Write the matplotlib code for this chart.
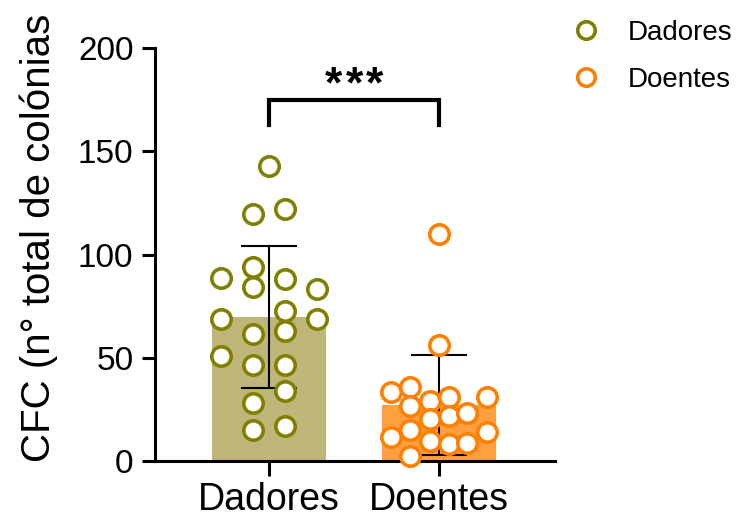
import numpy as np
from matplotlib import pyplot as plt

plt.rcParams['font.family'] = ['Liberation Sans', 'DejaVu Sans']

grupos = ['Dadores', 'Doentes']

dadores = [143.0, 119.5, 121.9, 88.5, 94.1, 84.4, 88.0, 83.3, 68.8, 72.8,
           68.8, 61.3, 63.0, 51.0, 46.5, 46.5, 33.9, 27.9, 15.0, 16.6]
doentes = [110.2, 56.2, 33.1, 35.7, 29.2, 31.1, 30.7, 26.3, 20.3, 21.9,
           23.1, 15.0, 11.5, 9.8, 8.1, 8.6, 13.7, 2.1]

# desvio horizontal de cada ponto (disposicao tipo "swarm")
desvio_dadores = [0, -0.094, 0.094, -0.282, -0.094, -0.094, 0.094, 0.282, -0.282, 0.094,
                  0.282, -0.094, 0.094, -0.282, -0.094, 0.094, 0.094, -0.094, -0.094, 0.094]
desvio_doentes = [0, 0, -0.282, -0.171, -0.057, 0.055, 0.28, -0.171, -0.057, 0.055,
                  0.166, -0.171, -0.282, -0.057, 0.055, 0.166, 0.28, -0.171]

cor_borda = ['#808000', '#FF8000']
cor_barra = ['#BFB77A', '#FFA040']

dados = [np.array(dadores), np.array(doentes)]
desvios = [desvio_dadores, desvio_doentes]
medias = [d.mean() for d in dados]
dps = [d.std(ddof=1) for d in dados]

fig = plt.figure(figsize=(7.38, 5.2), dpi=100)
ax = fig.add_axes([0.21, 0.114, 0.542, 0.793])

x = np.arange(len(grupos))
ax.bar(x, medias, width=0.67, color=cor_barra, zorder=1)
ax.errorbar(x, medias, yerr=dps, fmt='none', ecolor='black', elinewidth=1.5,
            capsize=20, capthick=1.5, zorder=2)
for i in range(len(grupos)):
    ax.plot(x[i] + np.array(desvios[i]), dados[i], 'o', ms=14, mfc='white',
            mec=cor_borda[i], mew=2.6, zorder=3, label=grupos[i], clip_on=False)

# barra de significancia
ax.plot([0, 0, 1, 1], [163, 175, 175, 163], color='black', lw=3, solid_joinstyle='miter',
        clip_on=False)
for k in (-1, 0, 1):
    ax.text(0.5 + k * 0.122, 182, '*', ha='center', va='center', fontsize=32,
            fontweight='bold')

ax.set_xlim(-0.67, 1.68)
ax.set_ylim(0, 200)
ax.set_yticks([0, 50, 100, 150, 200])
ax.set_xticks(x)
ax.set_xticklabels(grupos)
ax.spines['top'].set_visible(False)
ax.spines['right'].set_visible(False)
for s in ['left', 'bottom']:
    ax.spines[s].set_linewidth(2.2)
ax.tick_params(axis='y', length=9.5, width=2.2, labelsize=24, pad=6)
ax.tick_params(axis='x', length=10.5, width=2.2, labelsize=27, pad=5)

fig.text(0.052, 0.112, 'CFC (n° total de colónias', rotation=90, ha='center', va='bottom',
         fontsize=29)

ax.legend(loc='upper left', bbox_to_anchor=(0.738, 1.01), bbox_transform=fig.transFigure,
          frameon=False, fontsize=20, handletextpad=0.9, labelspacing=0.75, handlelength=1.2,
          markerscale=0.9)

fig.savefig('out.png', dpi=100)
